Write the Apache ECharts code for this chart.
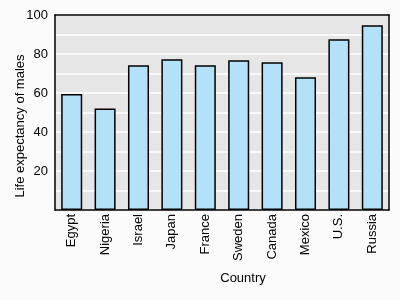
<!DOCTYPE html>
<html><head><meta charset="utf-8">
<script src="https://cdn.jsdelivr.net/npm/echarts@6/dist/echarts.min.js"></script>
<style>html,body{margin:0;padding:0;background:#fbfbfb}#c{width:400px;height:300px}</style>
</head><body><div id="c"></div>
<script>
const categories = ["Egypt","Nigeria","Israel","Japan","France","Sweden","Canada","Mexico","U.S.","Russia"];
const values = [59.5, 52, 74.2, 77.3, 74.2, 76.8, 75.8, 68.1, 87.6, 94.7];
const yTickLabels = [20, 40, 60, 80, 100];

const chart = echarts.init(document.getElementById('c'), null, {renderer: 'canvas'});
const F = 'Liberation Sans';
chart.setOption({
  backgroundColor: '#fbfbfb',
  animation: false,
  textStyle: {fontFamily: F},
  grid: {left: 55, right: 11, top: 15, bottom: 90, containLabel: false, outerBoundsMode: 'none',
    show: true, backgroundColor: '#e6e6e6', borderWidth: 0},
  xAxis: [{
    type: 'category', data: categories,
    name: 'Country', nameLocation: 'middle', nameGap: 62, nameMoveOverlap: false,
    nameTextStyle: {fontSize: 13, color: '#000', padding: [0,0,0,42], fontFamily: F},
    axisLine: {lineStyle: {color: '#000', width: 1.5}},
    axisTick: {show: false},
    axisLabel: {rotate: 90, fontSize: 13, color: '#000', margin: 4, fontFamily: F, padding: [10,0,0,0]}
  }, {
    type: 'category', data: categories, position: 'top',
    axisLine: {show: true, onZero: false, lineStyle: {color: '#000', width: 1.5}},
    axisTick: {show: false}, axisLabel: {show: false}, splitLine: {show: false}
  }],
  yAxis: [{
    type: 'value', min: 0, max: 100, interval: 10,
    name: 'Life expectancy of males', nameLocation: 'middle', nameGap: 28, nameMoveOverlap: false,
    nameTextStyle: {fontSize: 13, color: '#000', padding: [0,27,0,0], fontFamily: F},
    axisLine: {show: true, lineStyle: {color: '#000', width: 1.5}},
    axisTick: {show: false},
    splitLine: {show: true, lineStyle: {color: '#fff', width: 1.5}},
    axisLabel: {fontSize: 13, color: '#000', margin: 7, fontFamily: F,
      formatter: v => yTickLabels.indexOf(v) >= 0 ? String(v) : ''}
  }, {
    type: 'value', min: 0, max: 100, interval: 10, position: 'right',
    axisLine: {show: true, onZero: false, lineStyle: {color: '#000', width: 1.5}},
    axisTick: {show: false}, axisLabel: {show: false}, splitLine: {show: false}
  }],
  series: [{
    type: 'bar', data: values, barWidth: '63%',
    itemStyle: {color: '#b3e2f8', borderColor: '#000', borderWidth: 1.5}
  }]
});
</script></body></html>
